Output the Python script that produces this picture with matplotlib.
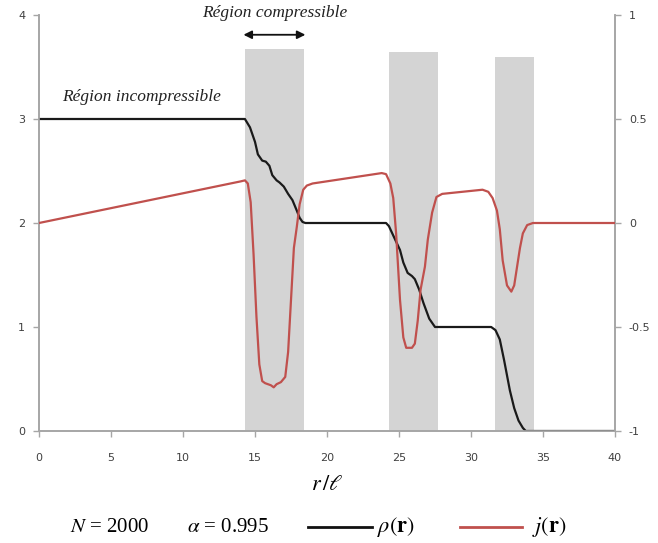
import matplotlib
matplotlib.use('Agg')
from matplotlib import pyplot as plt
from matplotlib.lines import Line2D

plt.rcParams['mathtext.fontset'] = 'stix'

# zones grises (r/l debut, fin, hauteur)
band_start = [14.3, 24.3, 31.7]
band_end = [18.4, 27.7, 34.4]
band_top = [3.67, 3.64, 3.60]

# densite rho(r)
rho_x = [0, 14.3, 14.65, 15.0, 15.2, 15.5, 15.75, 16.0, 16.2, 16.5, 16.7, 17.0, 17.3, 17.6,
         17.9, 18.1, 18.3, 18.5, 24.1, 24.3, 24.6, 25.07, 25.3, 25.6, 25.9, 26.1, 26.4, 26.7,
         27.1, 27.5, 31.4, 31.7, 32.0, 32.3, 32.7, 33.0, 33.3, 33.6, 33.8, 40]
rho_y = [3.0, 3.0, 2.92, 2.78, 2.66, 2.6, 2.59, 2.55, 2.46, 2.41, 2.39, 2.35, 2.28, 2.22,
         2.12, 2.05, 2.01, 2.0, 2.0, 1.97, 1.88, 1.74, 1.62, 1.52, 1.49, 1.46, 1.36, 1.23,
         1.08, 1.0, 1.0, 0.97, 0.88, 0.68, 0.39, 0.22, 0.1, 0.03, 0.0, 0.0]

# courant j(r)
j_x = [0, 14.0, 14.3, 14.5, 14.7, 14.9, 15.1, 15.3, 15.5, 15.7, 15.9, 16.1, 16.3, 16.5, 16.8,
       17.1, 17.3, 17.5, 17.7, 17.9, 18.1, 18.35, 18.6, 19.0, 23.8, 24.1, 24.4, 24.6, 24.8,
       25.07, 25.3, 25.5, 25.7, 25.9, 26.1, 26.3, 26.5, 26.8, 27.0, 27.3, 27.6, 28.0, 30.8,
       31.2, 31.5, 31.8, 32.0, 32.2, 32.5, 32.8, 33.0, 33.2, 33.4, 33.6, 33.9, 34.3, 40]
j_y = [0.0, 0.2, 0.205, 0.19, 0.1, -0.15, -0.45, -0.68, -0.76, -0.77, -0.775, -0.78, -0.79,
       -0.775, -0.765, -0.74, -0.62, -0.37, -0.12, -0.02, 0.09, 0.16, 0.18, 0.19, 0.24, 0.235,
       0.19, 0.12, -0.05, -0.37, -0.55, -0.6, -0.6, -0.6, -0.58, -0.47, -0.32, -0.21, -0.08,
       0.05, 0.125, 0.14, 0.16, 0.15, 0.12, 0.06, -0.03, -0.18, -0.3, -0.33, -0.3, -0.21,
       -0.12, -0.05, -0.01, 0.0, 0.0]

xticks = [0, 5, 10, 15, 20, 25, 30, 35, 40]
left_ticks = [0, 1, 2, 3, 4]
right_ticks = [-1, -0.5, 0, 0.5, 1]
right_labels = ['-1', '-0.5', '0', '0.5', '1']

fig = plt.figure(figsize=(6.58, 5.43), dpi=100)
ax = fig.add_axes([39 / 658, 1 - 431 / 543, 576 / 658, 416 / 543])
ax2 = ax.twinx()

axis_col = '#a6a6a6'
tick_col = '#404040'

for s, e, h in zip(band_start, band_end, band_top):
    ax.bar(s, h, width=e - s, align='edge', color='#d4d4d4', zorder=0)

ax.plot(rho_x, rho_y, color='#1a1a1a', lw=1.6, zorder=3)
ax2.plot(j_x, j_y, color='#c0504d', lw=1.6, zorder=3)

ax.set_xlim(0, 40)
ax.set_ylim(0, 4)
ax2.set_ylim(-1, 1)
ax.set_xticks(xticks)
ax.set_yticks(left_ticks)
ax2.set_yticks(right_ticks)
ax2.set_yticklabels(right_labels)

for a in (ax, ax2):
    a.spines['top'].set_visible(False)
    for sp in ('left', 'right', 'bottom'):
        a.spines[sp].set_color(axis_col)
        a.spines[sp].set_linewidth(1.2)
    a.tick_params(colors=axis_col, labelcolor=tick_col, labelsize=8, length=4, width=1)
ax.tick_params(axis='x', pad=12)
ax.tick_params(axis='y', pad=6)
ax2.tick_params(axis='y', pad=6)

serif = ['Liberation Serif', 'DejaVu Serif']
ax.text(1.6, 3.21, 'Région incompressible', style='italic', fontsize=12.5, family=serif,
        color='#222222', va='center')
fig.text(202 / 658, 1 - 13 / 543, 'Région compressible', style='italic', fontsize=12.5,
         family=serif, color='#222222', va='center')
ax.annotate('', xy=(18.5, 3.81), xytext=(14.2, 3.81), annotation_clip=False,
            arrowprops=dict(arrowstyle='<|-|>', color='#111111', lw=1.3,
                            mutation_scale=12, shrinkA=0, shrinkB=0))

fig.text(327 / 658, 1 - 484 / 543, r'$r\,/\ell$', fontsize=16, ha='center', va='center')

# legende en bas
ly = 1 - 527 / 543
fig.text(70 / 658, ly, r'$N$ = 2000', fontsize=15, family=serif, va='center')
fig.text(187 / 658, ly, r'$\alpha$ = 0.995', fontsize=15, family=serif, va='center')
fig.add_artist(Line2D([308 / 658, 372 / 658], [ly, ly], color='#111111', lw=2))
fig.text(377 / 658, ly, r'$\rho\left(\mathbf{r}\right)$', fontsize=16, va='center')
fig.add_artist(Line2D([460 / 658, 522 / 658], [ly, ly], color='#c0504d', lw=2))
fig.text(532 / 658, ly, r'$j\left(\mathbf{r}\right)$', fontsize=16, va='center')

plt.savefig('out.png', dpi=100)
